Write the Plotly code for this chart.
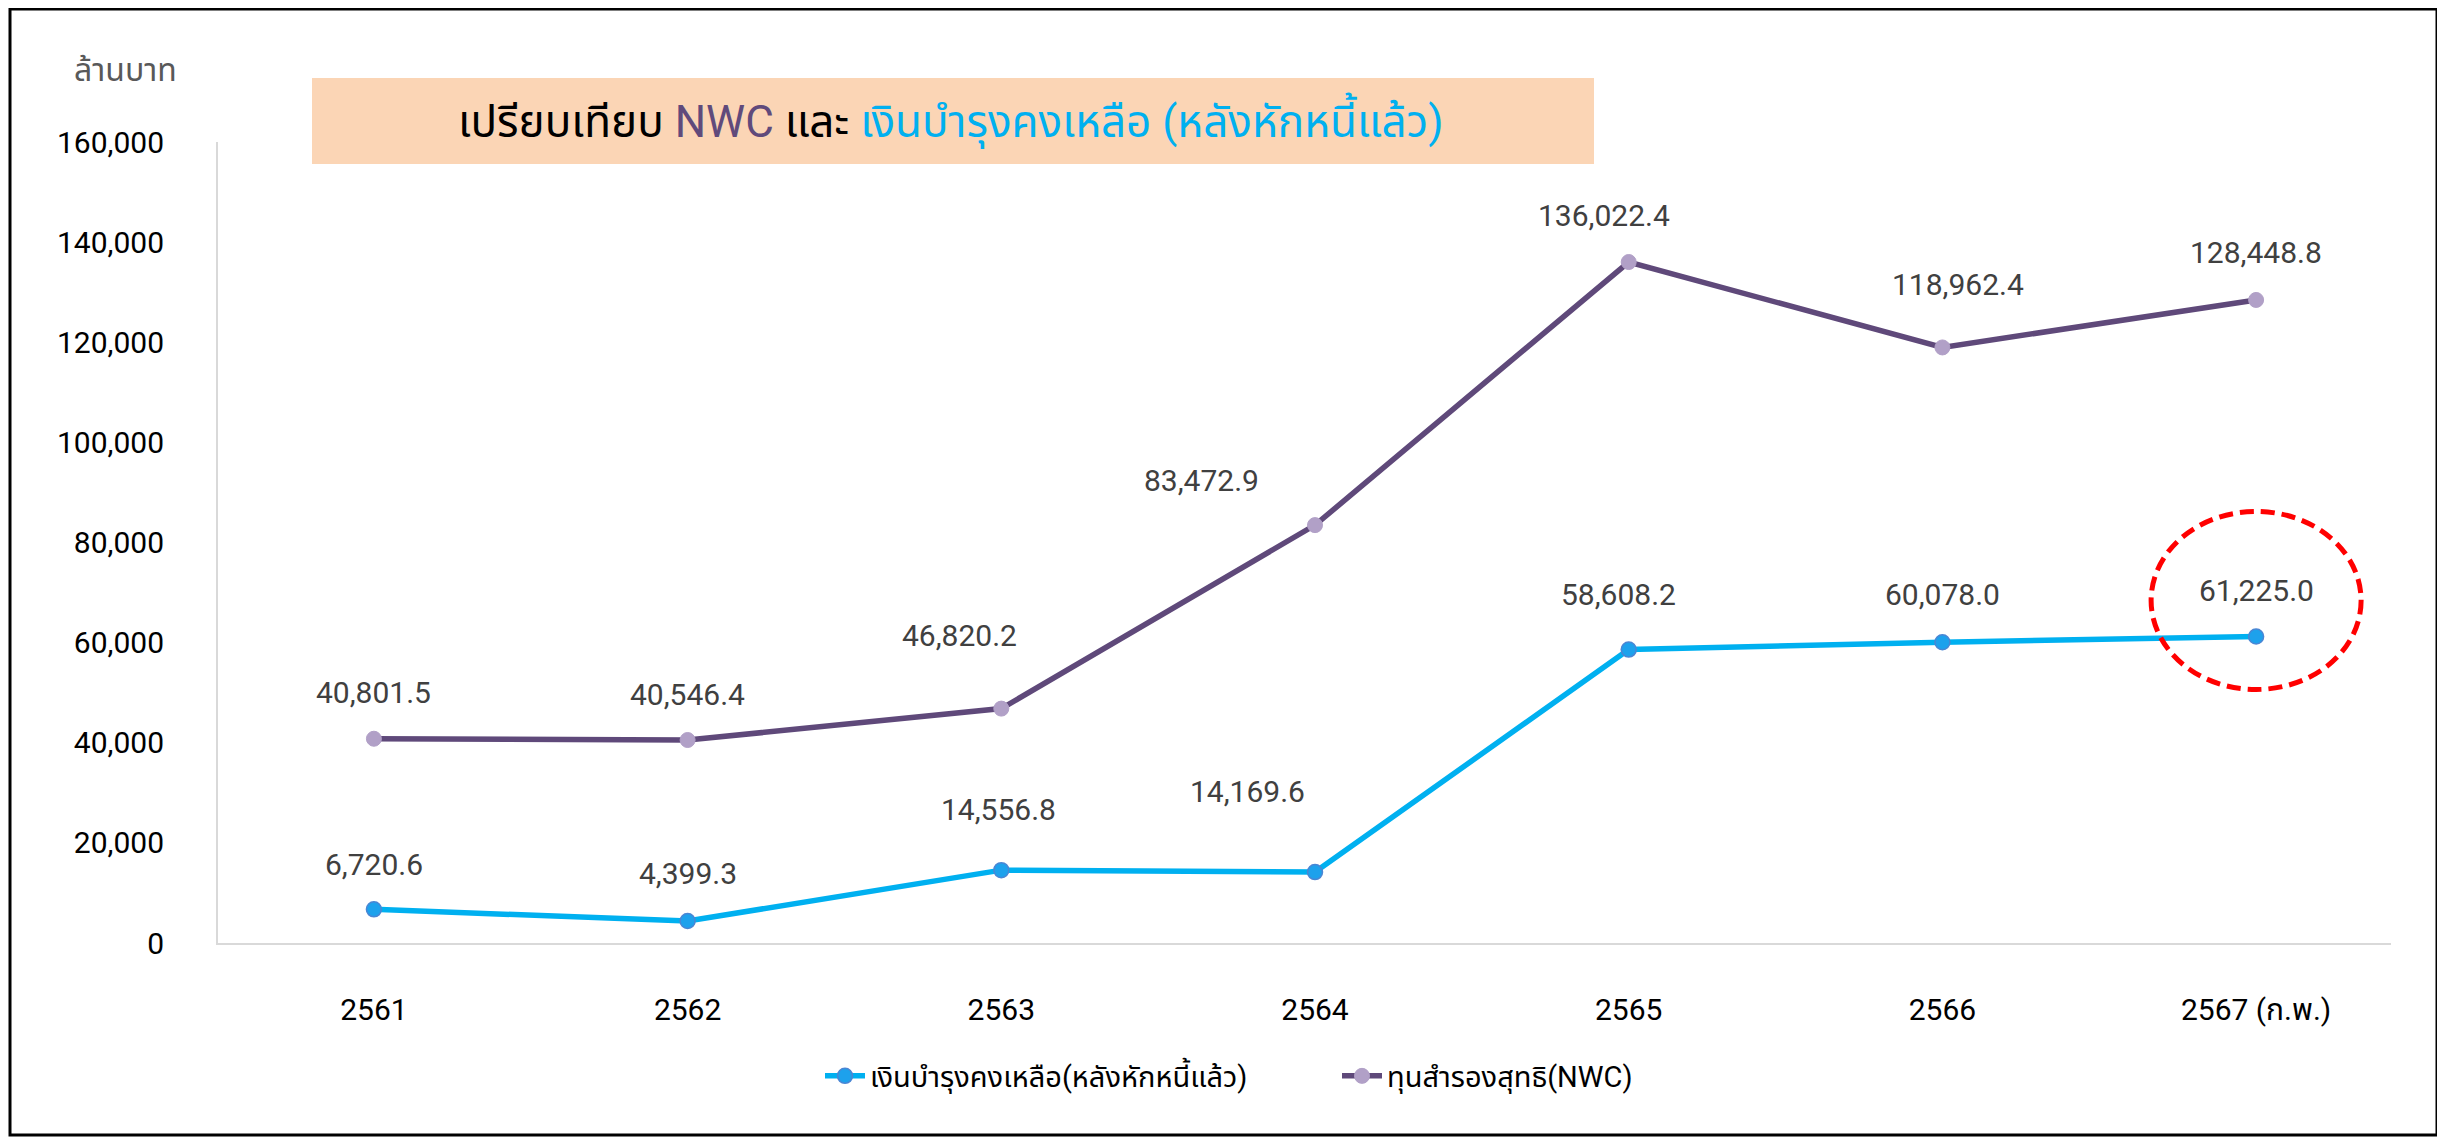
import plotly.graph_objects as go

# ---------------- data ----------------
years = ["2561", "2562", "2563", "2564", "2565", "2566", "2567 (ก.พ.)"]
cash_remaining = [6720.6, 4399.3, 14556.8, 14169.6, 58608.2, 60078.0, 61225.0]
nwc = [40801.5, 40546.4, 46820.2, 83472.9, 136022.4, 118962.4, 128448.8]
y_ticks = [0, 20000, 40000, 60000, 80000, 100000, 120000, 140000, 160000]

name_cash = "เงินบำรุงคงเหลือ(หลังหักหนี้แล้ว)"
name_nwc = "ทุนสำรองสุทธิ(NWC)"
unit_label = "ล้านบาท"

# label offsets (pixels relative to each point)
cash_label_dy = [45, 47, 61, 81, 55, 48, 46]
cash_label_dx = [0, 0, -3, -68, -10, 0, 0]
nwc_label_dy = [46, 46, 73, 45, 47, 63, 47]
nwc_label_dx = [0, 0, -42, -114, -25, 16, 0]

# ---------------- layout geometry ----------------
W, H = 2445, 1139
OFF = 8  # page body margin
L, R, T, B = 210, 62, 134, 204
PW, PH = W - L - R, H - T - B


def px_x(px):
    return (px - OFF - L) / PW


def px_y(py):
    return (H - B - (py - OFF)) / PH


FONT = "Roboto, 'Noto Sans Thai', 'Noto Sans', sans-serif"
C_CASH = "#00B0F0"
C_NWC = "#5F497A"
idx = list(range(len(years)))

fig = go.Figure()
fig.add_trace(go.Scatter(
    x=years, y=cash_remaining, name=name_cash, mode="lines+markers",
    line=dict(color=C_CASH, width=5.5),
    marker=dict(size=15, color="#1DA1EC", line=dict(color="#4A86D4", width=1.5)),
))
fig.add_trace(go.Scatter(
    x=years, y=nwc, name=name_nwc, mode="lines+markers",
    line=dict(color=C_NWC, width=5.5),
    marker=dict(size=15, color="#B1A0C7", line=dict(color="#B1A0C7", width=1)),
))

annotations = []
for ys, dys, dxs in [(cash_remaining, cash_label_dy, cash_label_dx),
                     (nwc, nwc_label_dy, nwc_label_dx)]:
    for i, yv, dy, dx in zip(idx, ys, dys, dxs):
        annotations.append(dict(
            x=i, y=yv, xref="x", yref="y", text=f"{yv:,.1f}", showarrow=False,
            yshift=dy, xshift=dx, font=dict(family=FONT, size=30, color="#404040"),
        ))

# unit label
annotations.append(dict(
    x=px_x(125), y=px_y(70), xref="paper", yref="paper", text=unit_label,
    showarrow=False, font=dict(family=FONT, size=32, color="#595959"),
    xanchor="center", yanchor="middle",
))
# title
title_text = ("เปรียบเทียบ <span style='color:#604A7B'>NWC</span> และ "
              "<span style='color:#00B0F0'>เงินบำรุงคงเหลือ (หลังหักหนี้แล้ว)</span>")
annotations.append(dict(
    x=px_x(951), y=px_y(121), xref="paper", yref="paper", text=title_text,
    showarrow=False, font=dict(family=FONT, size=44, color="#000000"),
    xanchor="center", yanchor="middle",
))

shapes = [
    # title box
    dict(type="rect", xref="paper", yref="paper",
         x0=px_x(312), x1=px_x(1594), y0=px_y(164), y1=px_y(78),
         fillcolor="#FBD5B5", line=dict(width=0), layer="below"),
    # outer border
    dict(type="rect", xref="paper", yref="paper",
         x0=px_x(10), x1=px_x(2437), y0=px_y(1135), y1=px_y(9),
         line=dict(color="black", width=3), fillcolor="rgba(0,0,0,0)"),
    # highlight ellipse around last cash point
    dict(type="circle", xref="x", yref="y", xsizemode="pixel", ysizemode="pixel",
         xanchor=idx[-1], yanchor=cash_remaining[-1],
         x0=-105, x1=105, y0=-53, y1=125,
         line=dict(color="#FF0000", width=5, dash="14px,7px")),
]

fig.update_layout(
    width=W, height=H,
    margin=dict(l=L, r=R, t=T, b=B, autoexpand=False),
    paper_bgcolor="white", plot_bgcolor="white",
    font=dict(family=FONT, size=30, color="#000000"),
    showlegend=True,
    legend=dict(orientation="h", x=px_x(820), xanchor="left", y=px_y(1076), yanchor="middle",
                font=dict(family=FONT, size=29, color="#000000"), itemwidth=40,
                entrywidth=462, entrywidthmode="pixels"),
    annotations=annotations,
    shapes=shapes,
)
fig.update_xaxes(
    type="category", range=[-0.497, 6.43], showgrid=False, showline=True,
    linecolor="#D9D9D9", linewidth=2, ticks="",
    tickfont=dict(family=FONT, size=30, color="#000000"), ticklabelstandoff=39,
)
fig.update_yaxes(
    range=[0, 160000], tickvals=y_ticks, tickformat=",", showgrid=False, zeroline=False,
    showline=True, linecolor="#D9D9D9", linewidth=2, ticks="",
    tickfont=dict(family=FONT, size=30, color="#000000"), ticklabelstandoff=46,
)

fig.write_html("out.html")
